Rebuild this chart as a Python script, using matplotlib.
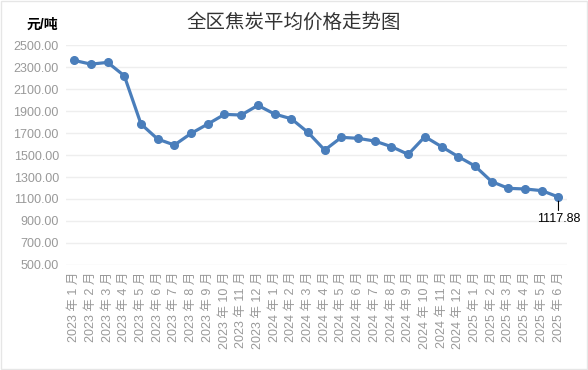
import matplotlib.pyplot as plt
from matplotlib.patches import Rectangle

plt.rcParams['font.family'] = ['Liberation Sans', 'Noto Sans CJK SC', 'DejaVu Sans']

# 月份与价格（元/吨）
years = [2023] * 12 + [2024] * 12 + [2025] * 6
months = list(range(1, 13)) + list(range(1, 13)) + list(range(1, 7))
prices = [2361, 2327, 2343, 2221, 1782, 1645, 1591, 1697, 1782, 1870,
          1864, 1952, 1873, 1830, 1706, 1545, 1661, 1652, 1627, 1576,
          1506, 1667, 1576, 1485, 1400, 1258, 1197, 1191, 1176, 1117.88]
labels = ['%d 年 %d 月' % (y, m) for y, m in zip(years, months)]
yticks = list(range(500, 2501, 200))

fig = plt.figure(figsize=(5.88, 3.70), dpi=100)
ax = fig.add_axes([0.112, 0.284, 0.852, 0.594])

x = list(range(len(prices)))
ax.plot(x, prices, color='#4a7ebb', lw=2.3, marker='o', ms=5.5, zorder=3)

ax.set_xlim(-0.5, len(prices) - 0.5)
ax.set_ylim(500, 2500)
ax.set_yticks(yticks)
ax.set_yticklabels(['%.2f' % v for v in yticks], color='#999999', fontsize=9)
ax.set_xticks(x)
ax.set_xticklabels(labels, rotation=90, color='#999999', fontsize=9)
ax.tick_params(length=0, pad=5)
ax.grid(axis='y', color='#eeeeee', lw=1)
ax.set_axisbelow(True)
for s in ax.spines.values():
    s.set_visible(False)

# 最后一个点的数据标签
ax.annotate('%.2f' % prices[-1], (x[-1], prices[-1]), xytext=(0, -16),
            textcoords='offset points', ha='center', va='center', fontsize=9,
            arrowprops=dict(arrowstyle='-', color='black', lw=0.8,
                            shrinkA=0, shrinkB=3))

fig.text(0.5, 0.94, '全区焦炭平均价格走势图', ha='center', va='center',
         fontsize=14, color='#333333')
fig.text(0.072, 0.932, '元/吨', ha='center', va='center', fontsize=10,
         fontweight='bold')

fig.patches.append(Rectangle((0.001, 0.004), 0.998, 0.993, transform=fig.transFigure,
                             fill=False, ec='#e6e6e6', lw=1))

fig.savefig('out.png', dpi=100)
